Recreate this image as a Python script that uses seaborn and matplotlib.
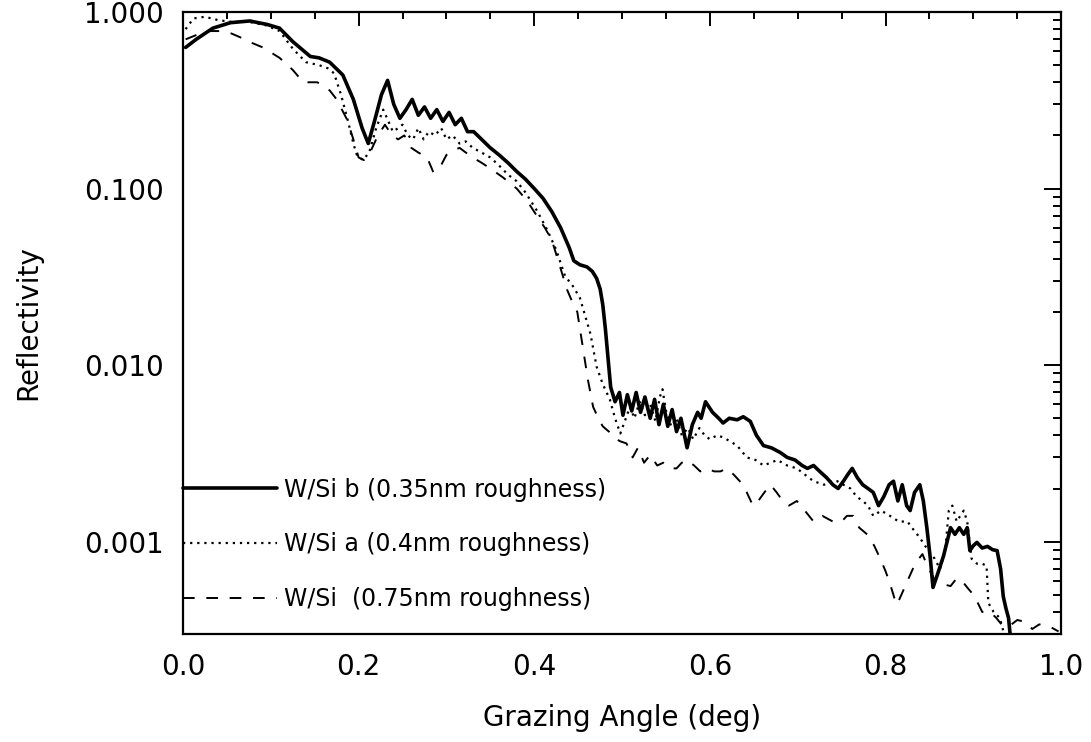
import numpy as np
import pandas as pd
import matplotlib
matplotlib.use("Agg")
import matplotlib.pyplot as plt
import seaborn as sns
from matplotlib.ticker import FixedLocator, FixedFormatter, MultipleLocator, LogLocator, NullFormatter

# W/Si b (0.35nm roughness) - solid
x_b = [0.003, 0.015, 0.034, 0.054, 0.076, 0.096, 0.110, 0.125, 0.145, 0.155,
       0.167, 0.182, 0.194, 0.204, 0.211, 0.218, 0.226, 0.233, 0.240, 0.247,
       0.254, 0.261, 0.268, 0.275, 0.282, 0.289, 0.296, 0.303, 0.310, 0.317,
       0.324, 0.331, 0.340, 0.350, 0.360, 0.370, 0.380, 0.390, 0.400, 0.410,
       0.420, 0.430, 0.440, 0.445, 0.452, 0.460, 0.466, 0.471, 0.475, 0.478,
       0.481, 0.484, 0.487, 0.492, 0.497, 0.501, 0.506, 0.511, 0.516, 0.521,
       0.526, 0.532, 0.537, 0.542, 0.547, 0.552, 0.557, 0.562, 0.567, 0.574,
       0.580, 0.586, 0.590, 0.595, 0.603, 0.610, 0.615, 0.622, 0.631, 0.638,
       0.646, 0.653, 0.661, 0.670, 0.680, 0.688, 0.697, 0.705, 0.711, 0.718,
       0.725, 0.733, 0.740, 0.746, 0.752, 0.757, 0.762, 0.768, 0.774, 0.780,
       0.786, 0.792, 0.798, 0.804, 0.809, 0.814, 0.819, 0.824, 0.828, 0.833,
       0.839, 0.843, 0.847, 0.851, 0.854, 0.859, 0.866, 0.870, 0.874, 0.879,
       0.884, 0.889, 0.893, 0.896, 0.900, 0.904, 0.910, 0.916, 0.922, 0.927,
       0.931, 0.934, 0.937, 0.940, 0.943]
r_b = [0.63, 0.70, 0.81, 0.87, 0.89, 0.85, 0.81, 0.68, 0.56, 0.55,
       0.52, 0.44, 0.32, 0.22, 0.18, 0.24, 0.34, 0.41, 0.30, 0.25,
       0.28, 0.32, 0.26, 0.29, 0.25, 0.28, 0.24, 0.27, 0.23, 0.25,
       0.21, 0.21, 0.19, 0.17, 0.155, 0.14, 0.125, 0.113, 0.100, 0.088,
       0.074, 0.060, 0.046, 0.039, 0.037, 0.036, 0.034, 0.031, 0.027, 0.022,
       0.016, 0.011, 0.0075, 0.0062, 0.0070, 0.0052, 0.0068, 0.0055, 0.0070, 0.0054,
       0.0066, 0.0050, 0.0064, 0.0046, 0.0060, 0.0045, 0.0056, 0.0042, 0.0050, 0.0034,
       0.0046, 0.0054, 0.0050, 0.0062, 0.0054, 0.0050, 0.0047, 0.0050, 0.0049, 0.0051,
       0.0048, 0.0040, 0.0035, 0.0034, 0.0032, 0.0030, 0.0029, 0.0027, 0.0026, 0.0027,
       0.0025, 0.0023, 0.0021, 0.0020, 0.0022, 0.0024, 0.0026, 0.0023, 0.0021, 0.0020,
       0.0019, 0.0016, 0.0018, 0.0021, 0.0022, 0.0017, 0.0021, 0.0016, 0.0015, 0.0019,
       0.0021, 0.0017, 0.0012, 0.0008, 0.00055, 0.00065, 0.00083, 0.0010, 0.0012, 0.0011,
       0.0012, 0.0011, 0.0012, 0.00089, 0.00095, 0.00099, 0.00092, 0.00094, 0.00090, 0.00089,
       0.00070, 0.00049, 0.00042, 0.00037, 0.00026]

# W/Si a (0.4nm roughness) - dotted
x_a = [0.003, 0.012, 0.025, 0.040, 0.055, 0.075, 0.095, 0.110, 0.125, 0.140,
       0.155, 0.165, 0.172, 0.180, 0.188, 0.194, 0.198, 0.205, 0.212, 0.220,
       0.228, 0.234, 0.239, 0.245, 0.250, 0.256, 0.262, 0.268, 0.274, 0.280,
       0.287, 0.294, 0.300, 0.307, 0.315, 0.322, 0.330, 0.340, 0.350, 0.360,
       0.370, 0.380, 0.390, 0.403, 0.415, 0.425, 0.435, 0.444, 0.452, 0.458,
       0.464, 0.471, 0.478, 0.486, 0.492, 0.498, 0.503, 0.509, 0.514, 0.520,
       0.526, 0.532, 0.538, 0.543, 0.546, 0.550, 0.556, 0.562, 0.568, 0.575,
       0.581, 0.588, 0.594, 0.600, 0.608, 0.615, 0.623, 0.631, 0.642, 0.652,
       0.661, 0.669, 0.677, 0.688, 0.699, 0.708, 0.718, 0.730, 0.738, 0.745,
       0.752, 0.760, 0.767, 0.774, 0.780, 0.786, 0.795, 0.805, 0.815, 0.825,
       0.830, 0.836, 0.842, 0.848, 0.856, 0.862, 0.868, 0.872, 0.876, 0.881,
       0.885, 0.889, 0.893, 0.898, 0.904, 0.910, 0.915, 0.917, 0.923, 0.930,
       0.935]
r_a = [0.80, 0.92, 0.94, 0.90, 0.88, 0.88, 0.84, 0.78, 0.62, 0.52,
       0.50, 0.48, 0.45, 0.34, 0.24, 0.18, 0.155, 0.145, 0.16, 0.22,
       0.28, 0.24, 0.21, 0.22, 0.23, 0.20, 0.19, 0.22, 0.19, 0.21,
       0.20, 0.22, 0.19, 0.20, 0.18, 0.185, 0.17, 0.16, 0.15, 0.135,
       0.12, 0.11, 0.095, 0.075, 0.058, 0.045, 0.032, 0.028, 0.024, 0.019,
       0.015, 0.0098, 0.0078, 0.0064, 0.0050, 0.0041, 0.0048, 0.0058, 0.0050, 0.0062,
       0.0052, 0.0060, 0.0048, 0.0066, 0.0073, 0.0055, 0.0045, 0.0050, 0.0040, 0.0044,
       0.0038, 0.0044, 0.0040, 0.0038, 0.0040, 0.0039, 0.0037, 0.0035, 0.0030, 0.0029,
       0.0027, 0.0028, 0.0029, 0.0027, 0.0026, 0.0024, 0.0022, 0.0021, 0.0022, 0.0022,
       0.0021, 0.0020, 0.0018, 0.0017, 0.0016, 0.0014, 0.0015, 0.0014, 0.0013, 0.0013,
       0.0012, 0.0011, 0.0010, 0.0009, 0.0008, 0.0007, 0.0009, 0.0015, 0.0016, 0.0013,
       0.0014, 0.0015, 0.0013, 0.0008, 0.00075, 0.00075, 0.00073, 0.00045, 0.00040, 0.00037,
       0.00030]

# W/Si (0.75nm roughness) - dashed
x_c = [0.003, 0.015, 0.030, 0.045, 0.054, 0.065, 0.078, 0.091, 0.110, 0.125,
       0.137, 0.153, 0.167, 0.175, 0.187, 0.194, 0.200, 0.206, 0.213, 0.222,
       0.230, 0.238, 0.245, 0.252, 0.260, 0.268, 0.278, 0.285, 0.292, 0.300,
       0.308, 0.315, 0.322, 0.330, 0.340, 0.350, 0.365, 0.380, 0.392, 0.403,
       0.412, 0.420, 0.428, 0.437, 0.443, 0.449, 0.456, 0.461, 0.467, 0.473,
       0.478, 0.485, 0.490, 0.498, 0.505, 0.512, 0.518, 0.525, 0.532, 0.540,
       0.547, 0.555, 0.562, 0.568, 0.574, 0.582, 0.589, 0.596, 0.605, 0.612,
       0.619, 0.627, 0.634, 0.642, 0.649, 0.655, 0.662, 0.669, 0.676, 0.683,
       0.690, 0.699, 0.708, 0.718, 0.728, 0.740, 0.750, 0.756, 0.763, 0.770,
       0.779, 0.787, 0.794, 0.800, 0.805, 0.810, 0.813, 0.818, 0.825, 0.831,
       0.837, 0.842, 0.848, 0.855, 0.862, 0.868, 0.874, 0.881, 0.887, 0.893,
       0.900, 0.905, 0.910, 0.919, 0.926, 0.932, 0.940, 0.950, 0.960, 0.967,
       0.975, 0.987, 0.997]
r_c = [0.70, 0.74, 0.78, 0.78, 0.76, 0.72, 0.67, 0.63, 0.55, 0.47,
       0.40, 0.40, 0.36, 0.32, 0.245, 0.19, 0.15, 0.145, 0.16, 0.20,
       0.23, 0.20, 0.19, 0.20, 0.17, 0.16, 0.15, 0.124, 0.13, 0.155,
       0.165, 0.17, 0.16, 0.15, 0.14, 0.13, 0.115, 0.10, 0.085, 0.070,
       0.060, 0.051, 0.038, 0.027, 0.023, 0.020, 0.012, 0.0083, 0.0058, 0.0050,
       0.0045, 0.0042, 0.0039, 0.0037, 0.0036, 0.0030, 0.0034, 0.0028, 0.0031, 0.0027,
       0.0028, 0.0026, 0.0026, 0.0028, 0.0029, 0.0027, 0.0025, 0.0026, 0.0025, 0.0025,
       0.0026, 0.0024, 0.0022, 0.0019, 0.0016, 0.0017, 0.0019, 0.0021, 0.0019, 0.0017,
       0.0016, 0.0017, 0.0015, 0.0013, 0.0014, 0.0013, 0.0013, 0.0014, 0.0014, 0.0012,
       0.0011, 0.00095, 0.0008, 0.00068, 0.00058, 0.00048, 0.00044, 0.00050, 0.00060, 0.00070,
       0.00079, 0.00085, 0.00072, 0.00062, 0.00058, 0.00057, 0.00056, 0.00062, 0.00060, 0.00055,
       0.00050, 0.00045, 0.00040, 0.00040, 0.00037, 0.00034, 0.00033, 0.00036, 0.00035, 0.00032,
       0.00034, 0.00033, 0.00031]

labels = ["W/Si b (0.35nm roughness)", "W/Si a (0.4nm roughness)", "W/Si  (0.75nm roughness)"]
y_ticks = [0.001, 0.01, 0.1, 1.0]
y_ticklabels = ["0.001", "0.010", "0.100", "1.000"]
x_ticks = [0.0, 0.2, 0.4, 0.6, 0.8, 1.0]
x_ticklabels = ["0.0", "0.2", "0.4", "0.6", "0.8", "1.0"]

sns.set_theme(style="white")
plt.rcParams['font.family'] = ['DejaVu Sans']

fig = plt.figure(figsize=(10.91, 7.42), dpi=100)
ax = fig.add_axes([0.1677, 0.1456, 0.805, 0.8382])

sns.lineplot(x=x_b, y=r_b, ax=ax, color='black', lw=2.6, sort=False,
             estimator=None, label=labels[0])
sns.lineplot(x=x_a, y=r_a, ax=ax, color='black', lw=1.6, sort=False,
             estimator=None, label=labels[1], linestyle=(0, (1, 2.2)))
sns.lineplot(x=x_c, y=r_c, ax=ax, color='black', lw=1.4, sort=False,
             estimator=None, label=labels[2], linestyle=(0, (6, 6)))

ax.set_yscale('log')
ax.set_xlim(0, 1.0)
ax.set_ylim(3e-4, 1.0)

ax.yaxis.set_major_locator(FixedLocator(y_ticks))
ax.yaxis.set_major_formatter(FixedFormatter(y_ticklabels))
ax.yaxis.set_minor_locator(LogLocator(base=10, subs=np.arange(2, 10)))
ax.yaxis.set_minor_formatter(NullFormatter())
ax.xaxis.set_major_locator(FixedLocator(x_ticks))
ax.xaxis.set_major_formatter(FixedFormatter(x_ticklabels))
ax.xaxis.set_minor_locator(MultipleLocator(0.05))

for s in ax.spines.values():
    s.set_linewidth(1.6)
    s.set_color('black')

ax.tick_params(axis='both', which='both', direction='in', top=True, right=True,
               color='black', width=1.4, labelsize=20, labelcolor='black')
ax.tick_params(axis='y', which='major', length=12, pad=14)
ax.tick_params(axis='y', which='minor', length=6)
ax.tick_params(axis='x', which='major', length=10, pad=14)
ax.tick_params(axis='x', which='minor', length=5)

ax.set_xlabel("Grazing Angle (deg)", fontsize=20, labelpad=16, color='black')
ax.set_ylabel("Reflectivity", fontsize=20, labelpad=30, color='black')

ax.legend(loc='lower left', bbox_to_anchor=(0.0, 0.037), frameon=False,
          fontsize=17, handlelength=4.0, handletextpad=0.3,
          labelspacing=1.3, borderpad=0, borderaxespad=0, labelcolor='black')

fig.savefig("out.png", dpi=100)
